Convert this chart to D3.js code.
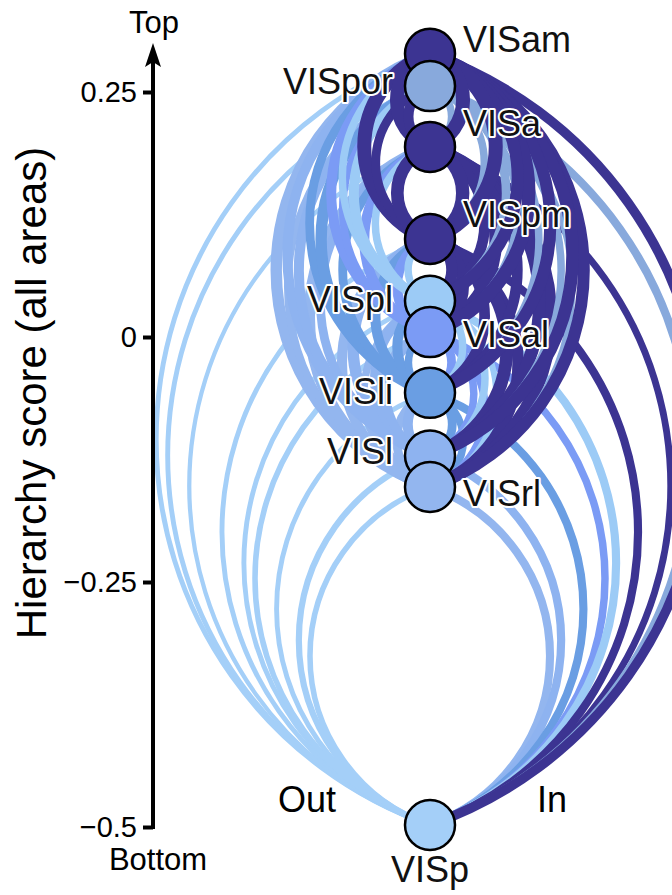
<!DOCTYPE html>
<html>
<head>
<meta charset="utf-8">
<script src="https://cdn.jsdelivr.net/npm/d3@7"></script>
<style>
  body { margin: 0; background: #fff; }
  svg text { font-family: "Liberation Sans", Arial, Helvetica, sans-serif; }
</style>
</head>
<body>
<div id="chart"></div>
<script>
// areas ordered bottom -> top of the hierarchy
const areas  = ["VISp", "VISrl", "VISl", "VISli", "VISal", "VISpl", "VISpm", "VISa", "VISpor", "VISam"];
const scores = [-0.498, -0.153, -0.121, -0.057, 0.005, 0.037, 0.100, 0.194, 0.256, 0.289];
const areaColors = ["#a4cff8", "#93b6ef", "#8eb3f0", "#6a9ee3", "#7b9bf5", "#9ccbf6", "#3c3492", "#3c3492", "#88a9dc", "#3c3492"];

const tickValues = [0.25, 0, -0.25, -0.5];

// connection strength, rows = source, cols = target (same order as areas)
const strength = [
  //  p    rl   l    li   al   pl   pm   a    por  am
  [0,   .35, .40, .30, .35, .30, .30, .25, .30, .30], // VISp
  [.55, 0,   .60, .60, .70, .50, .70, .80, .50, .80], // VISrl
  [.55, .60, 0,   .70, .60, .70, .80, .60, .70, .70], // VISl
  [.55, .50, .60, 0,   .50, .70, .70, .60, .80, .60], // VISli
  [.50, .50, .50, .60, 0,   .60, .70, .70, .50, .70], // VISal
  [.55, .40, .50, .50, .50, 0,   .50, .50, .70, .50], // VISpl
  [.55, .80, .90, .75, .85, .80, 0,   .90, .60, 1.0], // VISpm
  [.45, .90, .90, .75, .90, .75, .95, 0,   .70, 1.0], // VISa
  [.55, .40, .50, .50, .50, .60, .50, .50, 0,   .60], // VISpor
  [.65, .85, .90, .85, .95, .85, 1.0, 1.0, .85, 0  ]  // VISam
];

// label placement next to each node
const labelSide = ["bottom", "right", "left", "left", "right", "left", "right", "right", "left", "right"];
const labelDy   = [57, 19, 8, 11, 15, 11, -12, -11, 8, -2];

let svgWidth = 672;
let svgHeight = 895;

let svg = d3.select("#chart")
  .append("svg")
  .attr("width", svgWidth)
  .attr("height", svgHeight);

let nodeX = 430;
let nodeR = 25;

let y = d3.scaleLinear()
  .domain([-0.5, 0.25])
  .range([827, 92]);

let widthScale = d3.scaleLinear()
  .domain([0, 1])
  .range([1, 14]);

// build the list of arcs
let links = [];
strength.forEach(function(row, s) {
  row.forEach(function(v, t) {
    if (v > 0) links.push({ source: s, target: t, value: v });
  });
});
// lower sources first so the upper (dark) arcs sit on top
links.sort((a, b) => a.source - b.source || Math.abs(b.target - b.source) - Math.abs(a.target - a.source));

// circular arc between two nodes, bulging left (feedforward) or right (feedback)
function arcPath(d) {
  let y1 = y(scores[d.source]);
  let y2 = y(scores[d.target]);
  let c = Math.abs(y1 - y2);
  let s = 0.355 * c;
  let r = (c * c / 4 + s * s) / (2 * s);
  return `M${nodeX},${y1} A${r},${r} 0 0 1 ${nodeX},${y2}`;
}

svg.append("g")
  .selectAll("path")
  .data(links)
  .enter()
  .append("path")
  .attr("d", arcPath)
  .attr("fill", "none")
  .attr("stroke", d => areaColors[d.source])
  .attr("stroke-width", d => widthScale(d.value));

// axis
let axisX = 153;
let axisG = svg.append("g")
  .attr("transform", `translate(${axisX},0)`)
  .call(d3.axisLeft(y)
    .tickValues(tickValues)
    .tickSize(10)
    .tickPadding(6)
    .tickFormat(d3.format("~g")));

axisG.select(".domain").remove();
axisG.selectAll(".tick line")
  .attr("stroke", "#000")
  .attr("stroke-width", 4);
axisG.selectAll(".tick text")
  .attr("font-size", 29)
  .attr("font-family", "Liberation Sans, Arial, sans-serif")
  .attr("fill", "#000");

svg.append("line")
  .attr("x1", axisX).attr("x2", axisX)
  .attr("y1", y(-0.5) + 2).attr("y2", 60)
  .attr("stroke", "#000")
  .attr("stroke-width", 4);

svg.append("path")
  .attr("d", `M${axisX},43 L${axisX + 8},67 L${axisX},62 L${axisX - 8},67 Z`)
  .attr("fill", "#000");

svg.append("text")
  .attr("x", axisX + 1)
  .attr("y", 33)
  .attr("text-anchor", "middle")
  .attr("font-size", 31)
  .text("Top");

svg.append("text")
  .attr("x", 158)
  .attr("y", 870)
  .attr("text-anchor", "middle")
  .attr("font-size", 31)
  .text("Bottom");

svg.append("text")
  .attr("transform", "translate(46,393) rotate(-90)")
  .attr("text-anchor", "middle")
  .attr("font-size", 42)
  .text("Hierarchy score (all areas)");

svg.append("text")
  .attr("x", 278)
  .attr("y", 812)
  .attr("font-size", 36)
  .text("Out");

svg.append("text")
  .attr("x", 537)
  .attr("y", 812)
  .attr("font-size", 36)
  .text("In");

// nodes, drawn top-first so lower circles overlap the ones above
let order = d3.range(areas.length).sort((a, b) => scores[b] - scores[a]);

svg.append("g")
  .selectAll("circle")
  .data(order)
  .enter()
  .append("circle")
  .attr("cx", nodeX)
  .attr("cy", i => y(scores[i]))
  .attr("r", nodeR)
  .attr("fill", i => areaColors[i])
  .attr("stroke", "#000")
  .attr("stroke-width", 2.5);

// node labels with a white halo
svg.append("g")
  .selectAll("text")
  .data(d3.range(areas.length))
  .enter()
  .append("text")
  .attr("x", i => labelSide[i] === "left" ? nodeX - 37 : labelSide[i] === "right" ? nodeX + 33 : nodeX)
  .attr("y", i => y(scores[i]) + labelDy[i])
  .attr("text-anchor", i => labelSide[i] === "left" ? "end" : labelSide[i] === "right" ? "start" : "middle")
  .attr("font-size", 36)
  .attr("fill", "#111")
  .attr("stroke", "#fff")
  .attr("stroke-width", 4)
  .attr("stroke-linejoin", "round")
  .attr("paint-order", "stroke")
  .text(i => areas[i]);
</script>
</body>
</html>
